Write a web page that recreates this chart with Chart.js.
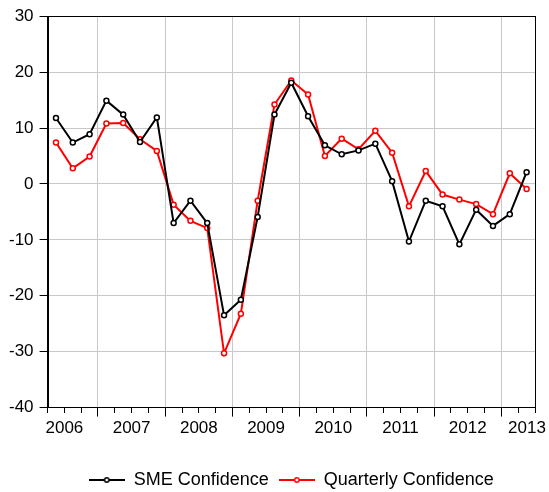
<!DOCTYPE html>
<html>
<head>
<meta charset="utf-8">
<script src="https://cdn.jsdelivr.net/npm/chart.js@4"></script>
<style>body{margin:0;background:#fff}</style>
</head>
<body>
<canvas id="chart" width="549" height="492"></canvas>
<script>
const quarters = ['2006Q2', '2006Q3', '2006Q4',
    '2007Q1', '2007Q2', '2007Q3', '2007Q4',
    '2008Q1', '2008Q2', '2008Q3', '2008Q4',
    '2009Q1', '2009Q2', '2009Q3', '2009Q4',
    '2010Q1', '2010Q2', '2010Q3', '2010Q4',
    '2011Q1', '2011Q2', '2011Q3', '2011Q4',
    '2012Q1', '2012Q2', '2012Q3', '2012Q4',
    '2013Q1', '2013Q2'];
const smeConfidence = [11.8, 7.4, 8.9, 14.9, 12.4, 7.5, 11.9, -7.0, -3.0, -7.0,
    -23.5, -20.7, -5.9, 12.4, 18.1, 12.1, 6.9, 5.3, 6.0, 7.2,
    0.5, -10.3, -3.0, -4.0, -10.8, -4.6, -7.5, -5.4, 2.1];
const quarterlyConfidence = [7.4, 2.8, 4.9, 10.8, 10.9, 8.0, 5.9, -3.7, -6.6, -7.9,
    -30.3, -23.2, -3.0, 14.2, 18.5, 16.0, 5.0, 8.1, 6.2, 9.5,
    5.6, -4.0, 2.3, -1.9, -2.8, -3.6, -5.4, 1.9, -0.9];
const yearLabels = ['2006', '2007', '2008', '2009', '2010', '2011', '2012', '2013'];

const X_MIN = 2006.25, X_MAX = 2013.5;

// quarter string -> position in the middle of that quarter
function quarterToX(q) {
    const year = parseInt(q.slice(0, 4));
    const n = parseInt(q.slice(5));
    return year + (n - 1) / 4 + 0.125;
}

function toPoints(values) {
    return values.map((v, i) => ({x: quarterToX(quarters[i]), y: v}));
}

// year label sits in the middle of its year, last one pulled back inside
const labelAt = {};
yearLabels.forEach(y => {
    const pos = Math.min(parseInt(y) + 0.5, X_MAX - 0.12);
    labelAt[pos.toFixed(2)] = y;
});

function legendMarker(color) {
    const c = document.createElement('canvas');
    c.width = 36;
    c.height = 10;
    const g = c.getContext('2d');
    g.strokeStyle = color;
    g.lineWidth = 2;
    g.beginPath();
    g.moveTo(0, 5);
    g.lineTo(36, 5);
    g.stroke();
    g.beginPath();
    g.arc(18, 5, 2.2, 0, Math.PI * 2);
    g.fillStyle = '#fff';
    g.fill();
    g.lineWidth = 1.5;
    g.stroke();
    return c;
}
const markers = [legendMarker('#000000'), legendMarker('#ff0000')];

const framePlugin = {
    id: 'frame',
    afterDraw(chart) {
        const {ctx, chartArea: a} = chart;
        ctx.save();
        ctx.strokeStyle = '#000';
        ctx.lineWidth = 1;
        ctx.strokeRect(Math.round(a.left) + 0.5, Math.round(a.top) + 0.5,
            Math.round(a.right - a.left), Math.round(a.bottom - a.top));
        ctx.restore();
    }
};

Chart.defaults.font.family = '"Liberation Sans", Arial, sans-serif';
Chart.defaults.font.size = 17;
Chart.defaults.color = '#000';

const isYear = v => Math.abs(v - Math.round(v)) < 1e-6;

new Chart(document.getElementById('chart'), {
    type: 'line',
    data: {
        datasets: [
            {
                label: 'SME Confidence',
                data: toPoints(smeConfidence),
                borderColor: '#000000',
                borderWidth: 2,
                pointRadius: 2.5,
                pointBorderWidth: 1.5,
                pointBackgroundColor: '#ffffff',
                pointBorderColor: '#000000',
                tension: 0
            },
            {
                label: 'Quarterly Confidence',
                data: toPoints(quarterlyConfidence),
                borderColor: '#ff0000',
                borderWidth: 2,
                pointRadius: 2.5,
                pointBorderWidth: 1.5,
                pointBackgroundColor: '#ffffff',
                pointBorderColor: '#ff0000',
                tension: 0
            }
        ]
    },
    options: {
        responsive: false,
        animation: false,
        layout: {padding: {left: 3, right: 14, top: 13, bottom: -7}},
        scales: {
            x: {
                type: 'linear',
                min: X_MIN,
                max: X_MAX,
                afterBuildTicks: axis => {
                    const ticks = [];
                    for (let i = 0; i <= (X_MAX - X_MIN) * 4; i++) {
                        ticks.push({value: +(X_MIN + i * 0.25).toFixed(2)});
                    }
                    Object.keys(labelAt).forEach(k => {
                        if (!ticks.some(t => t.value.toFixed(2) === k)) ticks.push({value: +k});
                    });
                    ticks.sort((a, b) => a.value - b.value);
                    axis.ticks = ticks;
                },
                afterFit: axis => { axis.height += 20; },
                ticks: {
                    autoSkip: false,
                    maxRotation: 0,
                    padding: 2,
                    callback: v => labelAt[v.toFixed(2)] || ''
                },
                grid: {
                    color: c => (c.tick && isYear(c.tick.value) && c.tick.value > X_MIN && c.tick.value < X_MAX) ? '#c8c8c8' : 'rgba(0,0,0,0)',
                    lineWidth: 1,
                    tickLength: 9,
                    tickColor: c => (c.tick && Math.abs(c.tick.value * 4 - Math.round(c.tick.value * 4)) < 1e-6) ? '#000' : 'rgba(0,0,0,0)',
                    tickBorderDash: c => (c.tick && isYear(c.tick.value)) ? [] : [5, 100]
                },
                border: {color: '#000', width: 1}
            },
            y: {
                min: -40,
                max: 30,
                ticks: {stepSize: 10, padding: 6},
                grid: {color: '#c8c8c8', tickColor: '#000', tickLength: 8},
                border: {color: '#000', width: 1}
            }
        },
        plugins: {
            legend: {
                position: 'bottom',
                fullSize: false,
                labels: {
                    usePointStyle: true,
                    pointStyleWidth: 36,
                    font: {size: 18},
                    padding: 10,
                    generateLabels: chart => Chart.defaults.plugins.legend.labels.generateLabels(chart)
                        .map((l, i) => ({...l, pointStyle: markers[i]}))
                }
            },
            tooltip: {enabled: false}
        }
    },
    plugins: [framePlugin]
});
</script>
</body>
</html>
